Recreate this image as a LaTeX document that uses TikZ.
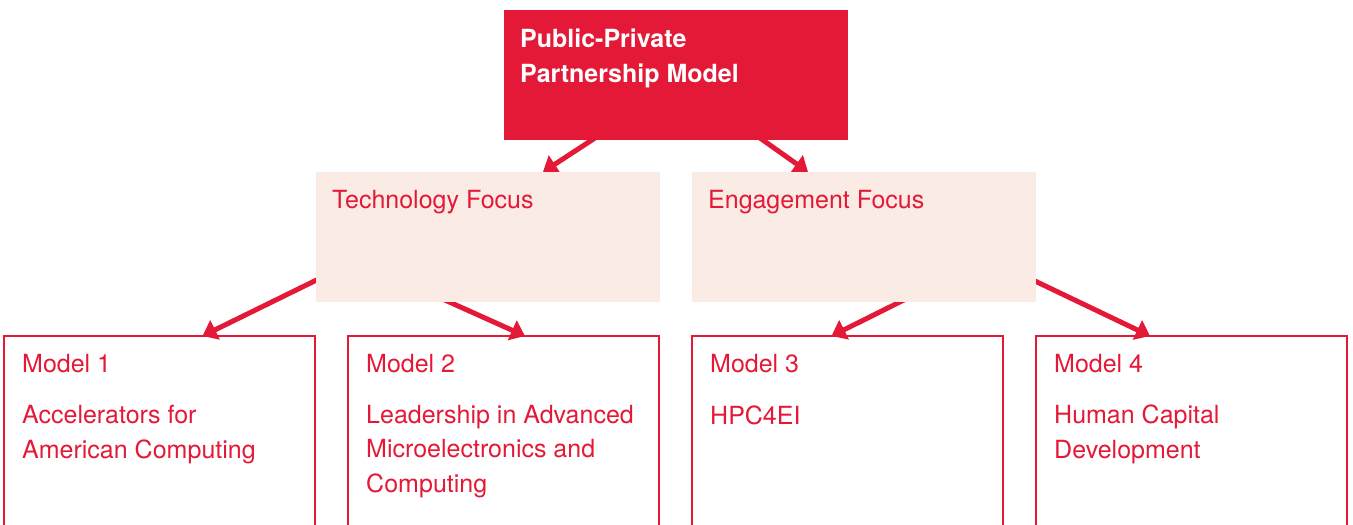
\documentclass[tikz,border=0pt]{standalone}
\usepackage{fontspec}
\setmainfont{TeX Gyre Heros}
\usetikzlibrary{arrows.meta,backgrounds}
\definecolor{pppred}{HTML}{E41937}
\definecolor{focusfill}{HTML}{FAEBE4}

\begin{document}
\begin{tikzpicture}[x=1pt,y=-1pt,
  topbox/.style={fill=pppred,minimum width=344pt,minimum height=130pt,inner sep=0pt,outer sep=0pt,anchor=north west},
  focusbox/.style={fill=focusfill,minimum width=344pt,minimum height=130pt,inner sep=0pt,outer sep=0pt,anchor=north west},
  modelbox/.style={draw=pppred,line width=1.5pt,minimum width=311pt,minimum height=220pt,inner sep=0pt,outer sep=0pt,anchor=north west},
  boxtext/.style={text=pppred,inner sep=0pt,anchor=base west,align=left,font=\fontsize{25}{34.5}\selectfont},
  toptext/.style={text=white,inner sep=0pt,anchor=base west,align=left,font=\fontsize{25}{35}\selectfont\bfseries},
  link/.style={draw=pppred,line width=5pt,-{Triangle[length=14pt,width=21pt]}}]
  \clip (0,0) rectangle (1353,525);

  \node[topbox] (top) at (504,10) {};
  % base of a multi-line node is its last line
  \node[toptext] (toplbl) at ([xshift=16pt,yshift=-72pt]top.north west) {Public-Private\\Partnership Model};

  \node[focusbox] (tech) at (316,172) {};
  \node[focusbox] (eng) at (692,172) {};
  \node[boxtext] (techlbl) at ([xshift=16pt,yshift=-36pt]tech.north west) {Technology Focus};
  \node[boxtext] (englbl) at ([xshift=16pt,yshift=-36pt]eng.north west) {Engagement Focus};

  \node[modelbox] (m1) at (4,336) {};
  \node[modelbox] (m2) at (348,336) {};
  \node[modelbox] (m3) at (692,336) {};
  \node[modelbox] (m4) at (1036,336) {};

  \node[boxtext] (m1num) at ([xshift=18pt,yshift=-36pt]m1.north west) {Model 1};
  \node[boxtext] (m1lbl) at ([xshift=18pt,yshift=-122pt]m1.north west) {Accelerators for\\American Computing};
  \node[boxtext] (m2num) at ([xshift=18pt,yshift=-36pt]m2.north west) {Model 2};
  \node[boxtext] (m2lbl) at ([xshift=18pt,yshift=-156pt]m2.north west) {Leadership in Advanced\\Microelectronics and\\Computing};
  \node[boxtext] (m3num) at ([xshift=18pt,yshift=-36pt]m3.north west) {Model 3};
  \node[boxtext] (m3lbl) at ([xshift=18pt,yshift=-88pt]m3.north west) {HPC4EI};
  \node[boxtext] (m4num) at ([xshift=18pt,yshift=-36pt]m4.north west) {Model 4};
  \node[boxtext] (m4lbl) at ([xshift=18pt,yshift=-122pt]m4.north west) {Human Capital\\Development};

  % arrows run under the boxes they leave
  \begin{scope}[on background layer]
    \draw[link] ([xshift=-81pt,yshift=2pt]top.south) -- ([xshift=55pt]tech.north);
    \draw[link] ([xshift=84pt,yshift=2pt]top.south) -- ([xshift=-56pt]eng.north);
    \draw[link] ([xshift=23pt,yshift=-32pt]tech.west) -- ([xshift=43pt]m1.north);
    \draw[link] ([xshift=-61pt,yshift=10pt]tech.south) -- ([xshift=21.5pt]m2.north);
    \draw[link] ([xshift=58pt,yshift=11pt]eng.south) -- ([xshift=-16pt]m3.north);
    \draw[link] ([xshift=-22pt,yshift=-34pt]eng.east) -- ([xshift=-41.5pt]m4.north);
  \end{scope}
\end{tikzpicture}
\end{document}
